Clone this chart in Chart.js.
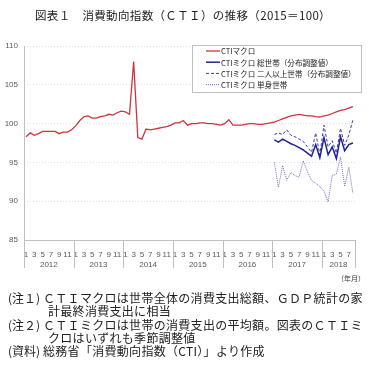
<!DOCTYPE html>
<html>
<head>
<meta charset="utf-8">
<script src="https://cdn.jsdelivr.net/npm/chart.js@4"></script>
<style>
  html, body { margin: 0; padding: 0; background: #fff; }
  body { width: 369px; height: 380px; position: relative; overflow: hidden;
         font-family: 'Noto Sans CJK JP', sans-serif; color: #222; }
  #title { position: absolute; left: 35px; top: 7px; font-size: 11.5px; letter-spacing: 0.35px; white-space: nowrap; }
  #wrap { position: absolute; left: 0; top: 0; width: 369px; height: 290px; }
  #notes { position: absolute; left: 8px; top: 291px; font-size: 12px; line-height: 13.3px; letter-spacing: 0.3px; }
  #notes div { white-space: nowrap; }
  #notes span { display: inline-block; width: 35px; letter-spacing: 0; }
  .ind { padding-left: 40px; }
</style>
</head>
<body>
<div id="wrap"><canvas id="cti-chart" width="369" height="290"></canvas></div>
<div id="title">図表１　消費動向指数（ＣＴＩ）の推移（2015＝100）</div>
<div id="notes">
  <div><span>(注１)</span>ＣＴＩマクロは世帯全体の消費支出総額、ＧＤＰ統計の家</div>
  <div class="ind">計最終消費支出に相当</div>
  <div><span>(注２)</span>ＣＴＩミクロは世帯の消費支出の平均額。図表のＣＴＩミ</div>
  <div class="ind">クロはいずれも季節調整値</div>
  <div><span>(資料)</span>総務省「消費動向指数（CTI）」より作成</div>
</div>
<script>
// years on the axis, and how many months each one has
const YEARS = ['2012', '2013', '2014', '2015', '2016', '2017', '2018'];
const MONTHS_IN_YEAR = [12, 12, 12, 12, 12, 12, 8];

const Y_TICKS = [85, 90, 95, 100, 105, 110];

// CTI macro, Jan 2012 - Aug 2018
const macro = [
    98.3, 98.8, 98.5, 98.7, 99.0, 99.0, 99.0, 99.0, 98.7, 98.9, 98.9, 99.2,
    99.7, 100.4, 100.9, 101.0, 100.7, 100.7, 100.9, 101.0, 101.2, 101.1, 101.4, 101.6,
    101.5, 101.2, 108.0, 98.2, 98.0, 99.3, 99.2, 99.3, 99.4, 99.5, 99.6, 99.8,
    100.1, 100.1, 100.4, 99.8, 100.0, 100.0, 100.1, 100.1, 100.0, 100.0, 99.9, 99.8,
    100.0, 100.5, 99.8, 99.8, 99.8, 99.9, 100.0, 100.0, 99.9, 99.9, 100.0, 100.1,
    100.2, 100.4, 100.6, 100.8, 101.0, 101.1, 101.2, 101.1, 101.0, 101.0, 100.9, 100.85,
    101.0, 101.1, 101.3, 101.5, 101.7, 101.8, 102.0, 102.2,
];

// CTI micro series, Jan 2017 - Aug 2018
const microAll = [
    97.9, 97.6, 98.0, 97.7, 97.4, 97.2, 96.9, 96.6, 96.2, 95.8, 97.3, 95.6,
    98.2, 96.0, 97.0, 95.5, 98.3, 96.5, 97.3, 97.5,
];
const microTwoPlus = [
    98.6, 98.8, 98.6, 99.2, 98.5, 98.3, 98.0, 97.7, 97.0, 96.3, 98.8, 96.0,
    99.8, 97.0, 97.8, 96.2, 99.4, 97.2, 98.5, 100.5,
];
const microSingle = [
    95.0, 91.8, 94.6, 92.7, 93.7, 93.3, 93.1, 95.2, 93.8, 92.7, 92.3, 91.9,
    91.3, 89.9, 93.3, 93.5, 95.7, 91.9, 94.4, 91.0,
];

const SERIES_LABELS = [
    'CTIマクロ',
    'CTIミクロ 総世帯（分布調整値）',
    'CTIミクロ 二人以上世帯（分布調整値）',
    'CTIミクロ 単身世帯',
];

const COLORS = {
    macro: '#d0343a',
    all: '#22229a',
    two: '#3a3aae',
    single: '#6a6ad0',
    grid: '#dedede',
    axis: '#bfbfbf',
    text: '#595959',
};

// month labels (1..12 per year) and padding for the micro series
const labels = [];
YEARS.forEach((y, i) => {
    for (let m = 1; m <= MONTHS_IN_YEAR[i]; m++) labels.push(String(m));
});
const microStart = labels.length - microAll.length;
const pad = arr => Array(microStart).fill(null).concat(arr);

const TICK_FONT = { family: 'Liberation Sans', size: 8 };

// year boxes under the months, the (年月) note and the legend box
const overlay = {
    id: 'overlay',
    afterDraw(chart) {
        const { ctx, chartArea } = chart;
        const x = chart.scales.x;
        const half = (x.getPixelForValue(1) - x.getPixelForValue(0)) / 2;
        ctx.save();

        // y axis line, solid
        ctx.strokeStyle = COLORS.axis;
        ctx.lineWidth = 1;
        ctx.beginPath();
        ctx.moveTo(Math.round(chartArea.left) + 0.5, chartArea.top);
        ctx.lineTo(Math.round(chartArea.left) + 0.5, chartArea.bottom);
        ctx.stroke();

        // year separators + labels
        ctx.fillStyle = COLORS.text;
        ctx.font = '8px "Liberation Sans"';
        ctx.textAlign = 'center';
        ctx.textBaseline = 'middle';
        let start = 0;
        const edges = [];
        YEARS.forEach((y, i) => {
            const left = x.getPixelForValue(start) - half;
            const right = x.getPixelForValue(start + MONTHS_IN_YEAR[i] - 1) + half;
            edges.push(left);
            if (i === YEARS.length - 1) edges.push(right);
            ctx.fillText(y, (left + right) / 2, chartArea.bottom + 25);
            start += MONTHS_IN_YEAR[i];
        });
        edges.forEach(px => {
            const xx = Math.round(px) + 0.5;
            ctx.beginPath();
            ctx.moveTo(xx, chartArea.bottom);
            ctx.lineTo(xx, chartArea.bottom + 28);
            ctx.stroke();
        });
        ctx.font = '7px "Noto Sans CJK JP"';
        ctx.fillStyle = '#333';
        ctx.fillText('（年月）', 351, chartArea.bottom + 38);

        // legend
        const box = { l: 192.5, t: 45.5, w: 169, h: 47 };
        ctx.fillStyle = '#fff';
        ctx.fillRect(box.l, box.t, box.w, box.h);
        ctx.strokeStyle = COLORS.axis;
        ctx.strokeRect(box.l, box.t, box.w, box.h);
        ctx.textAlign = 'left';
        ctx.font = '7.6px "Noto Sans CJK JP"';
        chart.data.datasets.forEach((ds, i) => {
            const yy = 51 + i * 11.2;
            ctx.strokeStyle = ds.borderColor;
            ctx.lineWidth = ds.borderWidth;
            ctx.setLineDash(ds.borderDash || []);
            ctx.beginPath();
            ctx.moveTo(206, yy);
            ctx.lineTo(220, yy);
            ctx.stroke();
            ctx.setLineDash([]);
            ctx.fillStyle = '#222';
            ctx.fillText(ds.label, 221, yy + 0.5);
        });
        ctx.restore();
    },
};

new Chart(document.getElementById('cti-chart'), {
    type: 'line',
    data: {
        labels,
        datasets: [
            { label: SERIES_LABELS[0], data: macro, borderColor: COLORS.macro, borderWidth: 1.3 },
            { label: SERIES_LABELS[1], data: pad(microAll), borderColor: COLORS.all, borderWidth: 1.5 },
            { label: SERIES_LABELS[2], data: pad(microTwoPlus), borderColor: COLORS.two, borderWidth: 1, borderDash: [3, 2] },
            { label: SERIES_LABELS[3], data: pad(microSingle), borderColor: COLORS.single, borderWidth: 1, borderDash: [1, 1] },
        ],
    },
    options: {
        responsive: false,
        animation: false,
        layout: { padding: { left: 0, right: 14, top: 46, bottom: 5 } },
        elements: { point: { radius: 0 }, line: { tension: 0 } },
        plugins: { legend: { display: false }, tooltip: { enabled: false } },
        scales: {
            x: {
                type: 'category',
                offset: true,
                grid: { display: false },
                border: { display: true, color: COLORS.axis },
                ticks: {
                    autoSkip: false,
                    maxRotation: 0,
                    padding: 2,
                    color: COLORS.text,
                    font: TICK_FONT,
                    callback(v) {
                        const m = Number(labels[v]);
                        return m % 2 === 1 ? String(m) : '';
                    },
                },
                afterFit(scale) { scale.height = 45; },
            },
            y: {
                min: 85,
                max: 110,
                afterBuildTicks(scale) { scale.ticks = Y_TICKS.map(v => ({ value: v })); },
                grid: { color: COLORS.grid, drawTicks: false },
                border: { display: false, dash: [1, 2] },
                ticks: { color: COLORS.text, font: TICK_FONT, padding: 6 },
                afterFit(scale) { scale.width = 24; },
            },
        },
    },
    plugins: [overlay],
});
</script>
</body>
</html>
